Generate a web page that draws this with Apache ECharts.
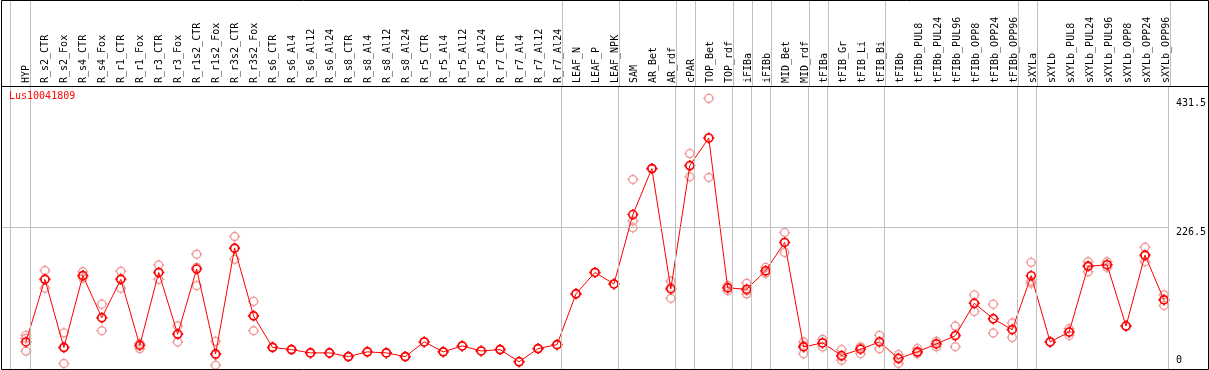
<!DOCTYPE html>
<html>
<head>
<meta charset="utf-8">
<script src="https://cdn.jsdelivr.net/npm/echarts@6/dist/echarts.min.js"></script>
<style>html,body{margin:0;padding:0;background:#fff}#c{width:1209px;height:370px}</style>
</head>
<body>
<div id="c"></div>
<script>
const title = 'Lus10041809';
const categories = ['HYP','R_s2_CTR','R_s2_Fox','R_s4_CTR','R_s4_Fox','R_r1_CTR','R_r1_Fox','R_r3_CTR','R_r3_Fox','R_r1s2_CTR','R_r1s2_Fox','R_r3s2_CTR','R_r3s2_Fox','R_s6_CTR','R_s6_Al4','R_s6_Al12','R_s6_Al24','R_s8_CTR','R_s8_Al4','R_s8_Al12','R_s8_Al24','R_r5_CTR','R_r5_Al4','R_r5_Al12','R_r5_Al24','R_r7_CTR','R_r7_Al4','R_r7_Al12','R_r7_Al24','LEAF_N','LEAF_P','LEAF_NPK','SAM','AR_Bet','AR_rdf','cPAR','TOP_Bet','TOP_rdf','iFIBa','iFIBb','MID_Bet','MID_rdf','tFIBa','tFIB_Gr','tFIB_Li','tFIB_Bi','tFIBb','tFIBb_PUL8','tFIBb_PUL24','tFIBb_PUL96','tFIBb_OPP8','tFIBb_OPP24','tFIBb_OPP96','sXYLa','sXYLb','sXYLb_PUL8','sXYLb_PUL24','sXYLb_PUL96','sXYLb_OPP8','sXYLb_OPP24','sXYLb_OPP96'];
const meanValues = [44.6,144,35.6,150,83,144,39,155,57,160.4,25.6,193.6,86,36,32.4,27.2,27.2,21.3,28.8,27.2,21.3,44.6,28.8,38.2,30.3,32.4,13,34,40.3,121,155,136.7,247,320,128.8,324.8,368.6,130.4,128.3,157.7,202.6,36.7,43,23,33,44.6,18.2,28.8,41.4,54.5,106,81.4,64,149.8,44.6,60.4,164.7,167.3,69.8,182.5,111.4];
const rep1 = [55,158,59,156,104.6,157,41,166.7,70,184,45.5,212,109,36,32.4,27.2,27.2,21.3,28.8,27.2,21.3,44.6,28.8,38.2,30.3,32.4,13,34,40.3,121,155,136.7,302.7,320,141,343.8,431.5,134,137.8,163,218.4,44.6,48.7,32.4,36.7,55,24.5,34,45.5,69.8,119.3,104.6,74.6,171,45,65.6,172,172,69.8,195,119.3];
const rep2 = [50,130,10.3,146,62.4,130,34,144,44.6,134,7.6,175.8,62.4,36,32.4,27.2,27.2,21.3,28.8,27.2,21.3,44.6,28.8,38.2,30.3,32.4,13,34,40.3,121,155,136.7,236.8,320,114,307,305.8,126,121,153.6,186.8,26,36.7,15.5,26,33.8,10.3,26,36.7,37,93,58.8,51.8,141,44,55,156,163,69.8,172,102.4];
const rep3 = [30,144,37,150,83,145,42,155,57,163,24,193,86,36,32.4,27.2,27.2,21.3,28.8,27.2,21.3,44.6,28.8,38.2,30.3,32.4,13,34,40.3,121,155,136.7,226,320,131,324,368.6,131,126,157,202.6,39,43,21,35,45,19,27,42,56,106,81,65,137.8,45,60,166,167,69.8,181,112];
const yTickValues = [0, 226.5, 431.5];
const groupEnds = ['HYP','R_r7_Al24','LEAF_NPK','AR_rdf','cPAR','TOP_rdf','iFIBa','iFIBb','MID_rdf','tFIBa','tFIB_Bi','tFIBb_OPP96','sXYLa','sXYLb_OPP96'];

// layout
const STEP = 19, FIRST_X = 26, GRID_L = 1;
const X_MIN = -(FIRST_X - GRID_L) / STEP;
const X_MAX = 60.26;
const GRID_R = 1209 - (GRID_L + (X_MAX - X_MIN) * STEP);
const Y_MAX = 451.2;
const SEP_OFFSET = 0.24, LEFT_SEP = -0.84;
const FONT = 'DejaVu Sans Mono';
const RED = '#ff0000', PINK = '#f09a9a', GRAY = '#c0c0c0';
const MARK = 'path://M5.5,0L5.5,1.6M5.5,9.4L5.5,11M0,5.5L1.6,5.5M9.4,5.5L11,5.5M9.5,5.5A4,4,0,1,1,1.5,5.5A4,4,0,1,1,9.5,5.5Z';

const sepValues = [LEFT_SEP].concat(groupEnds.map(n => categories.indexOf(n) + SEP_OFFSET));
const sepLines = sepValues.map(v => ({xAxis: v}));
const idx = categories.map((_, i) => i);

function repSeries(arr) {
  return {
    type: 'scatter', xAxisIndex: 1, yAxisIndex: 1,
    data: arr.map((v, i) => [i, v]),
    symbol: MARK, symbolSize: 11, z: 2, silent: true,
    itemStyle: {color: 'rgba(0,0,0,0)', borderColor: PINK, borderWidth: 1.4, opacity: 1}
  };
}

const chart = echarts.init(document.getElementById('c'), null, {renderer: 'canvas'});
chart.setOption({
  animation: false,
  backgroundColor: '#fff',
  title: {text: title, left: 9, top: 91, padding: 0,
    textStyle: {color: RED, fontSize: 10, fontWeight: 'normal', fontFamily: FONT}},
  grid: [
    {left: GRID_L, right: GRID_R, top: 0, height: 86},
    {left: GRID_L, right: GRID_R, top: 86, bottom: -1.5}
  ],
  xAxis: [
    {gridIndex: 0, type: 'value', min: X_MIN, max: X_MAX, position: 'bottom',
      axisLine: {show: false}, axisTick: {show: false}, splitLine: {show: false},
      axisLabel: {inside: true, rotate: 90, margin: 3, customValues: idx,
        formatter: v => categories[Math.round(v)] || '',
        fontFamily: FONT, fontSize: 10, color: '#000'}},
    {gridIndex: 1, type: 'value', min: X_MIN, max: X_MAX, show: false}
  ],
  yAxis: [
    {gridIndex: 0, type: 'value', min: 0, max: 1, show: false},
    {gridIndex: 1, type: 'value', min: 0, max: Y_MAX, position: 'right',
      axisLine: {show: false}, axisTick: {show: false}, splitLine: {show: false},
      axisLabel: {customValues: yTickValues.filter(v => v > 0), verticalAlign: 'top', align: 'left', margin: 7,
        fontFamily: FONT, fontSize: 10, color: '#000'}},
    {gridIndex: 1, type: 'value', min: 0, max: Y_MAX, position: 'right',
      axisLine: {show: false}, axisTick: {show: false}, splitLine: {show: false},
      axisLabel: {customValues: yTickValues.filter(v => v === 0), verticalAlign: 'bottom', align: 'left', margin: 7,
        padding: [0, 0, 5, 0], fontFamily: FONT, fontSize: 10, color: '#000'}}
  ],
  series: [
    {type: 'line', xAxisIndex: 0, yAxisIndex: 0, data: [], silent: true,
      markLine: {silent: true, symbol: 'none', label: {show: false}, animation: false,
        lineStyle: {color: GRAY, type: 'solid', width: 1}, data: sepLines}},
    {type: 'line', xAxisIndex: 1, yAxisIndex: 1, data: [], silent: true,
      markLine: {silent: true, symbol: 'none', label: {show: false}, animation: false,
        lineStyle: {color: GRAY, type: 'solid', width: 1},
        data: sepLines.concat(yTickValues.filter(v => v > 0 && v < 300).map(v => ({yAxis: v})))}},
    repSeries(rep1), repSeries(rep2), repSeries(rep3),
    {type: 'line', xAxisIndex: 1, yAxisIndex: 1, z: 3, silent: true,
      data: meanValues.map((v, i) => [i, v]),
      symbol: MARK, symbolSize: 11, showAllSymbol: true,
      lineStyle: {color: RED, width: 1},
      itemStyle: {color: 'rgba(0,0,0,0)', borderColor: RED, borderWidth: 1.6}}
  ],
  graphic: [
    {type: 'rect', z: 100, silent: true, shape: {x: 1.5, y: 0.5, width: 1207, height: 369},
      style: {fill: 'none', stroke: '#000', lineWidth: 1}},
    {type: 'line', z: 100, silent: true, shape: {x1: 1, y1: 86.5, x2: 1209, y2: 86.5},
      style: {stroke: '#000', lineWidth: 1}}
  ]
});
</script>
</body>
</html>
